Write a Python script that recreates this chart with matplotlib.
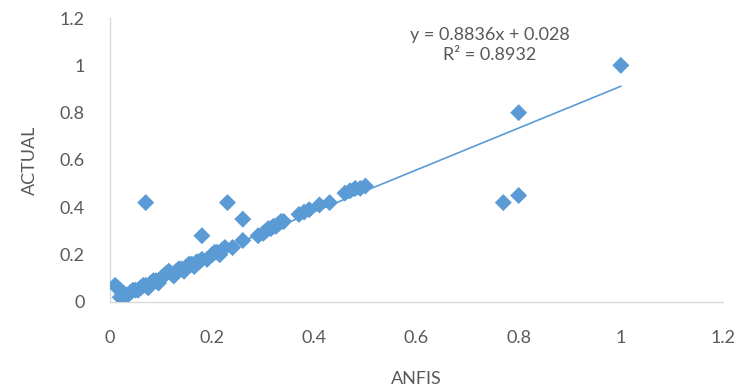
import numpy as np
import matplotlib.pyplot as plt

# ANFIS predictions vs actual values
anfis = [0.01, 0.015, 0.02, 0.02, 0.025, 0.03, 0.035, 0.04, 0.045, 0.05,
         0.055, 0.06, 0.065, 0.07, 0.075, 0.08, 0.085, 0.09, 0.095, 0.10,
         0.105, 0.11, 0.115, 0.12, 0.125, 0.13, 0.135, 0.14, 0.145, 0.15,
         0.155, 0.16, 0.165, 0.17, 0.175, 0.18, 0.19, 0.20, 0.205, 0.21,
         0.215, 0.22, 0.225, 0.24, 0.26, 0.29, 0.30, 0.305, 0.31, 0.315,
         0.32, 0.325, 0.33, 0.335, 0.34, 0.37, 0.38, 0.39, 0.41, 0.43,
         0.46, 0.47, 0.48, 0.49, 0.50,
         0.07, 0.18, 0.23, 0.26, 0.77, 0.80, 0.80, 1.00]
actual = [0.07, 0.06, 0.05, 0.02, 0.04, 0.03, 0.03, 0.04, 0.05, 0.05,
          0.05, 0.06, 0.07, 0.07, 0.06, 0.08, 0.09, 0.09, 0.08, 0.10,
          0.11, 0.12, 0.13, 0.12, 0.11, 0.13, 0.14, 0.14, 0.13, 0.15,
          0.16, 0.16, 0.15, 0.17, 0.17, 0.18, 0.18, 0.20, 0.21, 0.21,
          0.20, 0.22, 0.23, 0.23, 0.26, 0.28, 0.29, 0.30, 0.31, 0.31,
          0.32, 0.32, 0.33, 0.34, 0.34, 0.37, 0.38, 0.39, 0.41, 0.42,
          0.46, 0.47, 0.48, 0.48, 0.49,
          0.42, 0.28, 0.42, 0.35, 0.42, 0.45, 0.80, 1.00]

slope = 0.8836
intercept = 0.028
r2 = 0.8932

blue = '#5B9BD5'
grey = '#595959'
plt.rcParams['font.family'] = ['Lato', 'DejaVu Sans']

fig = plt.figure(figsize=(7.42, 3.89), dpi=100)
ax = fig.add_axes([0.1482, 0.2237, 0.8262, 0.73])

ax.scatter(anfis, actual, marker='D', s=75, color=blue, edgecolors='none', zorder=3)

xs = np.array([min(anfis), max(anfis)])
ax.plot(xs, slope * xs + intercept, color=blue, lw=1.2, zorder=2)

ax.text(0.62, 0.905, f'y = {slope}x + {intercept}\nR² = {r2}',
        transform=ax.transAxes, ha='center', va='center', fontsize=13,
        color=grey, linespacing=1.35)

ticks = [0, 0.2, 0.4, 0.6, 0.8, 1, 1.2]
tick_labels = ['0', '0.2', '0.4', '0.6', '0.8', '1', '1.2']
ax.set_xlim(0, 1.2)
ax.set_ylim(0, 1.2)
ax.set_xticks(ticks)
ax.set_xticklabels(tick_labels)
ax.set_yticks(ticks)
ax.set_yticklabels(tick_labels)
ax.tick_params(length=0, labelsize=13, labelcolor=grey)
ax.tick_params(axis='x', pad=20)
ax.tick_params(axis='y', pad=18)

for side in ['top', 'right']:
    ax.spines[side].set_visible(False)
for side in ['left', 'bottom']:
    ax.spines[side].set_color('#D9D9D9')
    ax.spines[side].set_linestyle((0, (2, 1)))
    ax.spines[side].set_linewidth(1)

ax.set_xlabel('ANFIS', fontsize=13, color=grey, labelpad=18)
ax.set_ylabel('ACTUAL', fontsize=13, color=grey, labelpad=16)

fig.savefig('out.png', dpi=100)
